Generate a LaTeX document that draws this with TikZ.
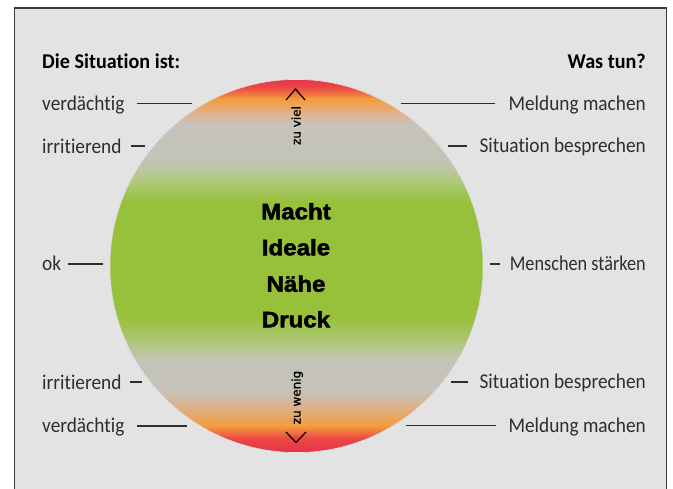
\documentclass[tikz,border=0pt]{standalone}
\usepackage{fontspec}
\setmainfont{Carlito}[Ligatures={NoCommon}, FakeStretch=0.92, BoldFeatures={FakeStretch=0.96}]
\newfontfamily\narrowfont{Carlito}[Ligatures={NoCommon}, FakeStretch=0.87]
\newfontfamily\centerfont{Liberation Sans Bold}[FakeBold=2.2,FakeStretch=1.08]
\newfontfamily\smallfont{DejaVu Sans}[FakeBold=1.2]
\definecolor{bgray}{HTML}{E3E3E3}
\definecolor{frameline}{HTML}{3A3A3A}
\definecolor{labeltext}{HTML}{2E2E2E}
\definecolor{cA}{HTML}{E52B4B}
\definecolor{cB}{HTML}{EC4A45}
\definecolor{cC}{HTML}{F39C3C}
\definecolor{cD}{HTML}{E3B083}
\definecolor{cE}{HTML}{C6C3BC}
\definecolor{cF}{HTML}{C2C4B6}
\definecolor{cG}{HTML}{AECA78}
\definecolor{cH}{HTML}{97C13A}
\definecolor{cI}{HTML}{AEC77A}
\definecolor{cJ}{HTML}{C3C4B7}
\definecolor{cK}{HTML}{C6C2BA}
\definecolor{cL}{HTML}{DDB088}
\tikzset{
  x=1pt, y=-1pt,
  leftlabel/.style={anchor=base west, inner sep=0pt, font=\fontsize{21}{25}\selectfont, text=labeltext},
  rightlabel/.style={anchor=base east, inner sep=0pt, font=\fontsize{21}{25}\selectfont, text=labeltext},
  header/.style={inner sep=0pt, font=\fontsize{21}{25}\selectfont\bfseries, text=black},
  bigword/.style={anchor=base, inner sep=0pt, font=\centerfont\fontsize{22.3}{26}\selectfont, text=black},
  sidetext/.style={anchor=base, rotate=90, inner sep=0pt, font=\smallfont\fontsize{12}{14}\selectfont, text=black},
  leader/.style={draw=labeltext, line width=1.2pt},
  chevron/.style={draw=black, line width=1.2pt},
}
\begin{document}
\begin{tikzpicture}
\useasboundingbox (0,0) rectangle (673,489);
% frame
\fill[bgray] (14.5,8) rectangle (666.5,489);
\draw[frameline, line width=1.5pt] (14.5,489) -- (14.5,8) -- (666.5,8) -- (666.5,489);
% gradient circle
\begin{scope}
\path[clip] (296.5,266) circle[radius=186.5];
\foreach \ya/\ca/\yb/\cb in {76/cA/88/cB, 88/cB/99/cC, 99/cC/112/cD, 112/cD/124/cE, 124/cE/162/cF, 162/cF/182/cG, 182/cG/202/cH, 202/cH/318/cH, 318/cH/342/cI, 342/cI/360/cJ, 360/cJ/390/cK, 390/cK/408/cL, 408/cL/426/cC, 426/cC/438/cB, 438/cB/456/cA}
  \fill[top color=\ca, bottom color=\cb] (105,\ya-0.4) rectangle (490,\yb+0.4);
\end{scope}
\draw[bgray, line width=0.7pt] (296.5,266) circle[radius=186.6];
% headers
\node[header, anchor=base west] (hl) at (42,69) {Die Situation ist:};
\node[header, anchor=base east] (hr) at (646,69) {Was tun?};
% left labels
\node[leftlabel] (l1) at (42,111) {verdächtig};
\node[leftlabel] (l2) at (42,153.5) {irritierend};
\node[leftlabel] (l3) at (42,271) {ok};
\node[leftlabel] (l4) at (42,389.5) {irritierend};
\node[leftlabel] (l5) at (42,433) {verdächtig};
% right labels
\node[rightlabel] (r1) at (646,110.5) {Meldung machen};
\node[rightlabel] (r2) at (646,153) {Situation besprechen};
\node[rightlabel, font=\narrowfont\fontsize{21}{25}\selectfont] (r3) at (646,270.5) {Menschen stärken};
\node[rightlabel] (r4) at (646,389) {Situation besprechen};
\node[rightlabel] (r5) at (646,432.5) {Meldung machen};
% leader line end points
\coordinate (l1a) at (137,103.5); \coordinate (l1b) at (192,103.5);
\coordinate (l2a) at (131,146);   \coordinate (l2b) at (145,146);
\coordinate (l3a) at (68,264);    \coordinate (l3b) at (103,264);
\coordinate (l4a) at (130,382);   \coordinate (l4b) at (142,382);
\coordinate (l5a) at (137,426);   \coordinate (l5b) at (187,426);
\coordinate (r1a) at (401,103.5); \coordinate (r1b) at (495,103.5);
\coordinate (r2a) at (448,146);   \coordinate (r2b) at (467,146);
\coordinate (r3a) at (490,264);   \coordinate (r3b) at (500,264);
\coordinate (r4a) at (451,382);   \coordinate (r4b) at (468,382);
\coordinate (r5a) at (406,425.5); \coordinate (r5b) at (496,425.5);
\foreach \n in {l1,l2,l3,l4,l5,r1,r2,r3,r4,r5}
  \draw[leader] (\n a) -- (\n b);
% centre words
\node[bigword] (w1) at (296,219.3) {Macht};
\node[bigword] (w2) at (296,255.3) {Ideale};
\node[bigword] (w3) at (296,291.7) {Nähe};
\node[bigword] (w4) at (296,327.3) {Druck};
% side texts and chevrons
\node[sidetext] (zv) at (300.5,125.5) {zu viel};
\node[sidetext] (zw) at (300.5,397.5) {zu wenig};
\coordinate (ua) at (286,100); \coordinate (ub) at (295.5,89); \coordinate (uc) at (305,100);
\coordinate (da) at (286,432); \coordinate (db) at (296,442.5); \coordinate (dc) at (306,432);
\draw[chevron] (ua) -- (ub) -- (uc);
\draw[chevron] (da) -- (db) -- (dc);
\end{tikzpicture}
\end{document}
